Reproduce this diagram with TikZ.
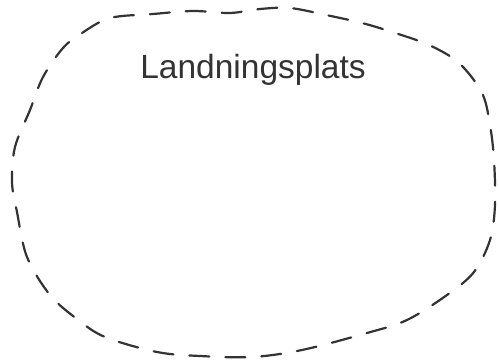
\documentclass[tikz,border=0pt]{standalone}
\usepackage{fontspec}
\setmainfont{Liberation Sans}
\begin{document}
\begin{tikzpicture}[x=1pt,y=-1pt,
  boundary/.style={draw=black!80,line width=2.2pt,line cap=round,dash pattern=on 20pt off 16pt},
  label/.style={font=\fontsize{33.5}{40}\selectfont,text=black!80}]
\useasboundingbox (0,0) rectangle (499,364);
\draw[boundary] plot[smooth cycle,tension=0.55] coordinates {
 (63,48) (82,33) (110,18) (153,14) (193,11) (230,13) (260,9) (290,8)
 (326,15) (362,23) (392,32) (429,45) (459,63) (482,93) (490,125) (494,160)
 (495,205) (490,240) (474,272) (447,295) (407,320) (367,333) (302,350)
 (252,357) (200,356) (157,352) (105,337) (77,319) (50,295) (27,257)
 (17,212) (12,182) (15,147) (30,110) (43,77)};
\node[label] (title) at (253,70) {Landningsplats};
\end{tikzpicture}
\end{document}
